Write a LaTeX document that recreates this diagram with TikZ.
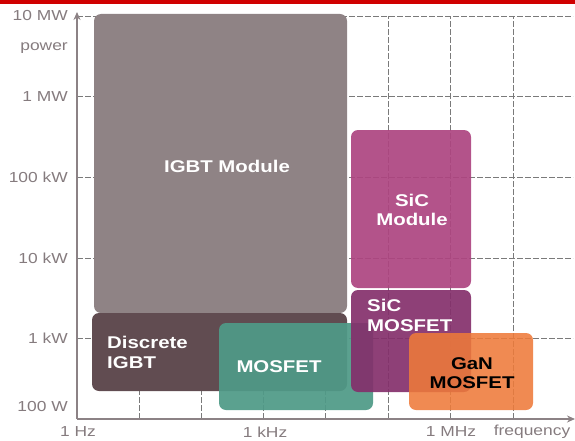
\documentclass[tikz,border=0pt]{standalone}
\usepackage{fontspec}
\setmainfont{Liberation Sans}
\usetikzlibrary{arrows.meta}
\definecolor{axisgray}{HTML}{8C8285}
\definecolor{gridgray}{HTML}{7A7A7A}
\definecolor{labelgray}{HTML}{857B7E}
\definecolor{igbtmod}{HTML}{8F8385}
\definecolor{igbtdisc}{HTML}{614C51}
\definecolor{mosteal}{HTML}{4F9A87}
\definecolor{sicmod}{HTML}{AD4480}
\definecolor{sicmos}{HTML}{84306B}
\definecolor{ganor}{HTML}{EE7A3A}
\definecolor{topred}{HTML}{D00000}
\tikzset{
  box/.style={rounded corners=7pt, inner sep=0pt},
  boxtext/.style={text=white, font=\bfseries\fontsize{17}{19.5}\selectfont, align=center, inner sep=0pt, xscale=1.2},
  gridline/.style={gridgray, line width=0.9pt, dash pattern=on 6pt off 2pt},
  axislabel/.style={text=labelgray, font=\fontsize{14.5}{16}\selectfont, inner sep=0pt, xscale=1.2}
}
\begin{document}
\begin{tikzpicture}[x=1pt,y=-1pt]
\useasboundingbox (0,0) rectangle (575,441);
% red band along the top edge
\fill[topred] (0,0) rectangle (575,4);
% dashed grid: one line per decade
\foreach \yy in {16,96,177,258,338}
  \draw[gridline] (77,\yy) -- (573,\yy);
\foreach \xx in {139,201,263,325,388,450,513}
  \draw[gridline] (\xx,419) -- (\xx,16);
% device regions
\fill[igbtmod, box] (94,14) rectangle (347,313);
\node[boxtext] (igbtmodule) at (227,166) {IGBT Module};
\fill[igbtdisc, box] (92,313) rectangle (347,391);
\node[boxtext, align=left, anchor=north west] (discigbt) at (107,336) {Discrete\\IGBT};
\fill[mosteal, box, fill opacity=0.93] (219,323) rectangle (373,410);
\node[boxtext] (mosfet) at (279,367) {MOSFET};
\fill[sicmod, box, fill opacity=0.92] (351,130) rectangle (471,288);
\node[boxtext] (sicmodule) at (412,210) {SiC\\Module};
\fill[sicmos, box, fill opacity=0.92] (351,290) rectangle (471,392);
\node[boxtext, align=left, anchor=north west] (sicmosfet) at (367,299) {SiC\\MOSFET};
\fill[ganor, box, fill opacity=0.88] (409,333) rectangle (533,410);
\node[boxtext, text=black] (ganmosfet) at (472,373) {GaN\\MOSFET};
% axes
\coordinate (origin) at (77,419);
\coordinate (ytop) at (77,12);
\coordinate (xend) at (575,419);
\draw[axisgray, line width=2pt, -{Stealth[length=8pt,width=7pt]}] (origin) -- (ytop);
\draw[axisgray, line width=2pt, -{Stealth[length=8pt,width=7pt]}] (origin) -- (xend);
% axis labels
\node[axislabel, anchor=east] (l10mw) at (68,16) {10 MW};
\node[axislabel, anchor=east] (lpower) at (68,48) {power};
\node[axislabel, anchor=east] (l1mw) at (68,97) {1 MW};
\node[axislabel, anchor=east] (l100kw) at (68,177) {100 kW};
\node[axislabel, anchor=east] (l10kw) at (68,258) {10 kW};
\node[axislabel, anchor=east] (l1kw) at (68,338) {1 kW};
\node[axislabel, anchor=east] (l100w) at (68,407) {100 W};
\node[axislabel] (l1hz) at (78,432) {1 Hz};
\node[axislabel] (l1khz) at (265,432) {1 kHz};
\node[axislabel] (l1mhz) at (451,432) {1 MHz};
\node[axislabel] (lfreq) at (532,432) {frequency};
\end{tikzpicture}
\end{document}
